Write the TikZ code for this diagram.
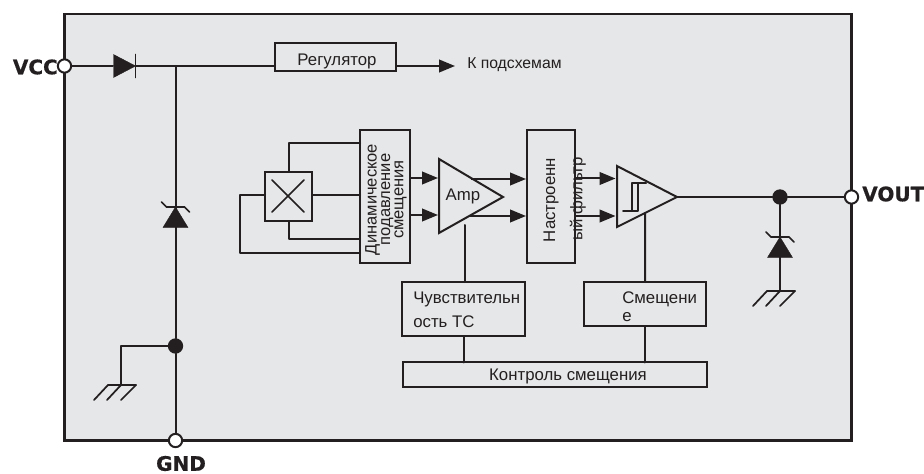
\documentclass[tikz,border=0pt]{standalone}
\usepackage{fontspec}
\setmainfont{Liberation Sans}
\newfontfamily\pinfont[BoldFeatures={FakeBold=0.6}]{DejaVu Sans}
\usetikzlibrary{arrows.meta,calc}
\definecolor{ink}{HTML}{231F20}
\definecolor{chipbg}{HTML}{E6E7E8}
\tikzset{
  x=0.75pt,y=-0.75pt,
  wire/.style={draw=ink,line width=1.5pt,line cap=round,line join=round},
  thin wire/.style={draw=ink,line width=1.3pt,line cap=round,line join=round},
  flow/.style={wire,line cap=butt,-{Triangle[length=12pt,width=9.5pt,fill=ink]}},
  block/.style={draw=ink,line width=1.5pt,fill=chipbg,inner sep=0pt,outer sep=0pt},
  label/.style={text=ink,inner sep=0pt,font=\fontsize{12.6pt}{14pt}\selectfont},
  rotlabel/.style={label,rotate=90,align=center,font=\fontsize{12.4pt}{10pt}\selectfont},
  pinlabel/.style={text=ink,inner sep=0pt,font=\pinfont\bfseries\fontsize{15pt}{16pt}\selectfont},
  pin/.style={circle,draw=ink,line width=1.5pt,fill=white,minimum size=10pt,inner sep=0pt,outer sep=0pt},
  dot/.style={circle,fill=ink,minimum size=11.5pt,inner sep=0pt,outer sep=0pt},
  solid part/.style={fill=ink,draw=ink,line width=0.3pt,line join=miter},
}
\newcommand{\zenersym}[2]{% centre x, apex y
  \fill[solid part] (#1,#2) -- (#1-12.5,#2+20.5) -- (#1+12.5,#2+20.5) -- cycle;
  \draw[thin wire] (#1-14,#2-5) -- (#1-9,#2) -- (#1+9,#2) -- (#1+14,#2+5);
}
\newcommand{\groundsym}[2]{% centre x, line y
  \draw[thin wire] (#1-13,#2) -- (#1+15,#2);
  \draw[thin wire] (#1-13,#2) -- (#1-27,#2+15);
  \draw[thin wire] (#1,#2) -- (#1-14,#2+15);
  \draw[thin wire] (#1+15,#2) -- (#1,#2+15);
}
\begin{document}
\begin{tikzpicture}
\useasboundingbox (0,0) rectangle (924,474);
\fill[white] (0,0) rectangle (924,474);

% chip outline
\node[block,line width=1.8pt,minimum width=787*0.75pt,minimum height=426.5*0.75pt] (chip) at (458,227.2) {};

% blocks
\node[block,minimum width=121*0.75pt,minimum height=28*0.75pt] (reg) at (335.5,57) {};
\node[label] (regt) at (337,61.5) {Регулятор};
\node[block,minimum width=47*0.75pt,minimum height=49*0.75pt] (hall) at (288.5,196.5) {};
\node[block,minimum width=49.5*0.75pt,minimum height=133*0.75pt] (dyn) at (384.8,196.5) {};
\node[rotlabel] (dynt) at (386,199.5) {Динамическое\\подавление\\смещения};
\node[block,minimum width=48.5*0.75pt,minimum height=133*0.75pt] (filt) at (550.8,196.5) {};
\node[label,rotate=90] (filta) at (551,200) {Настроенн};
\node[label,rotate=90] (filtb) at (578,199) {ый фильтр};
\node[block,minimum width=123*0.75pt,minimum height=54*0.75pt] (sens) at (463.5,309) {};
\node[label,anchor=base west] (sensa) at (413,303) {Чувствительн};
\node[label,anchor=base west] (sensb) at (413,327) {ость ТС};
\node[block,minimum width=122.5*0.75pt,minimum height=44*0.75pt] (bias) at (645.2,304) {};
\node[label,anchor=base west] (biasa) at (622,303) {Смещени};
\node[label,anchor=base west] (biasb) at (622,321) {е};
\node[block,minimum width=304*0.75pt,minimum height=24.5*0.75pt] (ctrl) at (554.5,374.7) {};
\node[label] (ctrlt) at (568,376.5) {Контроль смещения};

% pins and junctions
\node[pin] (vcc) at (64.5,66) {};
\node[pin] (vout) at (851.5,197) {};
\node[pin] (gnd) at (175.5,440.5) {};
\node[dot] (j1) at (175.5,346) {};
\node[dot] (j2) at (780,197) {};
\coordinate (jt) at (175.5,66);
\coordinate (diodeL) at (113,66);
\coordinate (diodeR) at (135.5,66);
\coordinate (regIn) at (275,66);
\coordinate (regOut) at (396,66);
\coordinate (gndA) at (121,385);
\coordinate (gndB) at (780,291);
\coordinate (subs) at (455,66);

% pin labels
\node[pinlabel,anchor=east] (vcct) at (58,67) {VCC};
\node[pinlabel,anchor=west] (voutt) at (862,194) {VOUT};
\node[pinlabel] (gndt) at (181,463.5) {GND};
\node[label,anchor=west] (subst) at (467,64.5) {\fontsize{11.8pt}{13pt}\selectfont К подсхемам};

% supply rail
\draw[wire] (vcc) -- (diodeL);
\fill[solid part] (113.5,54.5) -- (135.5,66) -- (113.5,77.5) -- cycle;
\draw[thin wire] (135.5,54.5) -- (135.5,77.5);
\draw[wire] (diodeR) -- (regIn);
\draw[flow] (regOut) -- (subs);
\draw[wire] (jt) -- (j1);
\draw[wire] (j1) -- (gnd);
\draw[wire] (j1) -| (gndA);
\zenersym{175.5}{207}
\groundsym{121}{385}

% Hall element
\draw[thin wire] (272,180) -- (304,212);
\draw[thin wire] (304,180) -- (272,212);
\coordinate (dynA) at (360,143);
\coordinate (dynB) at (360,195);
\coordinate (dynC) at (360,239);
\coordinate (dynD) at (360,253);
\coordinate (hallL) at (265,195);
\coordinate (loop) at (240,195);
\draw[wire] (hall.north) |- (dynA);
\draw[wire] (hall.east |- dynB) -- (dynB);
\draw[wire] (hall.south) |- (dynC);
\draw[wire] (hallL) -- (loop) |- (dynD);

% amplifier
\coordinate (ampA) at (439,159);
\coordinate (ampB) at (439,233);
\coordinate (ampC) at (503,197);
\draw[flow] (409.5,178) -- (438,178);
\draw[flow] (409.5,215) -- (438,215);
\draw[block] (ampA) -- (ampC) -- (ampB) -- cycle;
\node[label] (ampt) at (463,196) {Amp};
\draw[flow] (471,179) -- (526,179);
\draw[flow] (469,216) -- (526,216);
\draw[wire] (465,225) -- (465,282);

% comparator
\coordinate (cmpA) at (617,166);
\coordinate (cmpB) at (617,227);
\coordinate (cmpC) at (677,197);
\draw[flow] (575,178.5) -- (615.5,178.5);
\draw[flow] (575,216) -- (615.5,216);
\draw[block] (cmpA) -- (cmpC) -- (cmpB) -- cycle;
\draw[thin wire] (623,211) -- (638,211) -- (638,183) -- (646,183);
\draw[thin wire] (632,211) -- (632,183) -- (646,183);
\draw[wire] (645,213) -- (bias.north);
\draw[wire] (cmpC) -- (j2);
\draw[wire] (j2) -- (vout);
\draw[wire] (j2) -- (gndB);
\zenersym{780}{237}
\groundsym{780}{291}

% control
\draw[wire] (464,336) -- (464,362.5);
\draw[wire] (bias.south) -- (645.2,362.5);
\end{tikzpicture}
\end{document}
